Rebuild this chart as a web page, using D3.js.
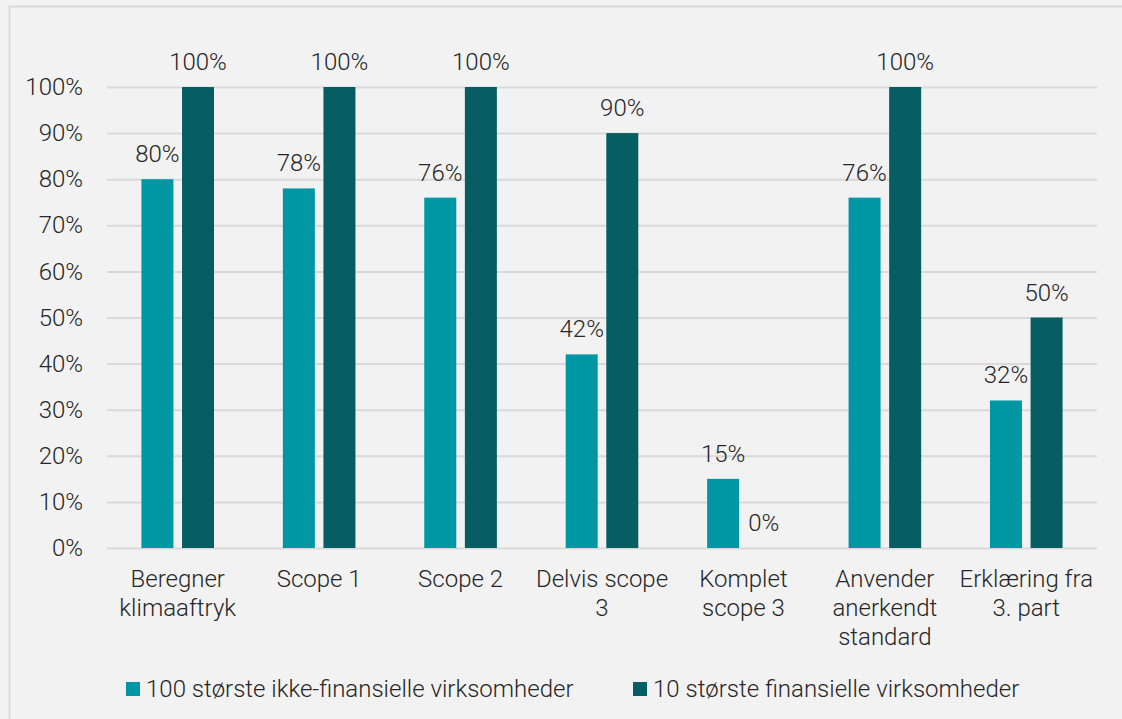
<!DOCTYPE html>
<html>
<head>
<meta charset="utf-8">
<script src="https://cdn.jsdelivr.net/npm/d3@7"></script>
<style>
  html, body { margin: 0; padding: 0; background: #f2f2f2; }
  svg { display: block; font-family: Roboto, "Noto Sans", sans-serif; }
</style>
</head>
<body>
<svg id="chart" width="1122" height="719"></svg>
<script>
// Chart data
const categories = [
  ["Beregner", "klimaaftryk"],
  ["Scope 1"],
  ["Scope 2"],
  ["Delvis scope", "3"],
  ["Komplet", "scope 3"],
  ["Anvender", "anerkendt", "standard"],
  ["Erklæring fra", "3. part"]
];
const seriesNames = ["100 største ikke-finansielle virksomheder", "10 største finansielle virksomheder"];
const nonFinancial = [80, 78, 76, 42, 15, 76, 32];
const financial = [100, 100, 100, 90, 0, 100, 50];
const yTicks = [0, 10, 20, 30, 40, 50, 60, 70, 80, 90, 100];
const colors = ["#0097a4", "#065e63"];

const svg = d3.select("#chart");
const W = 1122, H = 719;
const FS = 24;

// Outer frame
svg.append("rect")
  .attr("x", 9.5).attr("y", 6.5)
  .attr("width", W + 10).attr("height", H + 10)
  .attr("fill", "#f2f2f2")
  .attr("stroke", "#d9d9d9").attr("stroke-width", 2);

const plot = { left: 107, right: 1097, top: 87, bottom: 548 };

const x = d3.scaleBand()
  .domain(d3.range(categories.length))
  .range([plot.left, plot.right])
  .paddingInner(0).paddingOuter(0);

const y = d3.scaleLinear().domain([0, 100]).range([plot.bottom, plot.top]);

const barW = 32, gap = 8.6;
const offsets = [-(gap / 2 + barW / 2), gap / 2 + barW / 2];

// Gridlines and tick labels
const yAxis = d3.axisLeft(y)
  .tickValues(yTicks)
  .tickSize(-(plot.right - plot.left))
  .tickPadding(24)
  .tickFormat(d => d + "%");

const gy = svg.append("g")
  .attr("transform", `translate(${plot.left},0)`)
  .call(yAxis);
gy.select(".domain").remove();
gy.selectAll(".tick line").attr("stroke", "#d9d9d9").attr("stroke-width", 2);
gy.selectAll(".tick text")
  .attr("fill", "#262626")
  .attr("font-size", FS)
  .attr("font-weight", 300)
  .attr("font-family", "Roboto, sans-serif");

// Bars
const series = [nonFinancial, financial];
series.forEach((vals, si) => {
  const g = svg.append("g");
  g.selectAll("rect")
    .data(vals)
    .join("rect")
    .attr("x", (d, i) => x(i) + x.bandwidth() / 2 + offsets[si] - barW / 2)
    .attr("y", d => y(d))
    .attr("width", barW)
    .attr("height", d => y(0) - y(d))
    .attr("fill", colors[si]);

  g.selectAll("text")
    .data(vals)
    .join("text")
    .attr("x", (d, i) => x(i) + x.bandwidth() / 2 + offsets[si])
    .attr("y", d => y(d) - 17)
    .attr("text-anchor", "middle")
    .attr("fill", "#262626")
    .attr("font-size", FS)
    .attr("font-weight", 300)
    .text(d => d + "%");
});

// Category labels
const cat = svg.append("g");
categories.forEach((lines, i) => {
  const t = cat.append("text")
    .attr("x", x(i) + x.bandwidth() / 2)
    .attr("y", 587)
    .attr("text-anchor", "middle")
    .attr("fill", "#262626")
    .attr("font-size", FS)
    .attr("font-weight", 300);
  lines.forEach((ln, j) => {
    t.append("tspan")
      .attr("x", x(i) + x.bandwidth() / 2)
      .attr("y", 587 + j * 29)
      .text(ln);
  });
});

// Legend
const legendX = [126, 633];
const legend = svg.append("g");
seriesNames.forEach((name, i) => {
  legend.append("rect")
    .attr("x", legendX[i]).attr("y", 682)
    .attr("width", 14).attr("height", 14)
    .attr("fill", colors[i]);
  legend.append("text")
    .attr("x", legendX[i] + 20).attr("y", 697)
    .attr("fill", "#262626")
    .attr("font-size", FS)
    .attr("font-weight", 300)
    .text(name);
});
</script>
</body>
</html>
